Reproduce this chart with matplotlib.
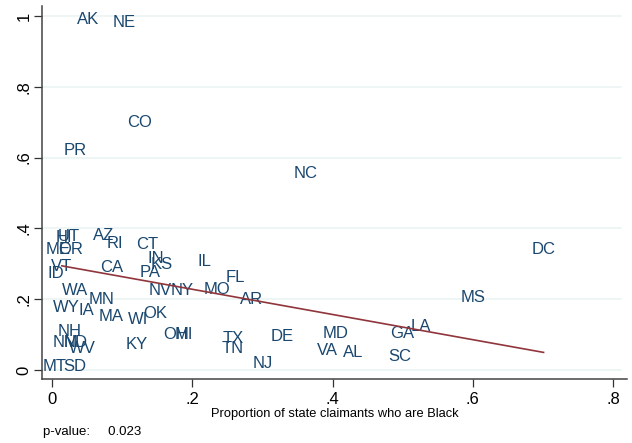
import numpy as np
import matplotlib.pyplot as plt

plt.rcParams['font.family'] = ['Liberation Sans', 'DejaVu Sans']

states = ['AK', 'NE', 'CO', 'PR', 'NC', 'DC', 'MS', 'LA', 'GA', 'SC',
          'MD', 'VA', 'AL', 'NJ', 'DE', 'TX', 'TN', 'AR', 'FL', 'MO',
          'IL', 'OH', 'MI', 'NY', 'NV', 'OK', 'WI', 'KY', 'MA', 'MN',
          'IA', 'WY', 'WA', 'CA', 'PA', 'IN', 'KS', 'CT', 'RI', 'AZ',
          'UT', 'HI', 'ME', 'OR', 'VT', 'ID', 'MT', 'SD', 'NH', 'NM',
          'ND', 'WV']

# share of claimants who are Black
black = [0.051, 0.103, 0.125, 0.033, 0.361, 0.701, 0.600, 0.526, 0.500, 0.496,
         0.404, 0.393, 0.430, 0.300, 0.328, 0.259, 0.257, 0.285, 0.262, 0.235,
         0.217, 0.176, 0.188, 0.185, 0.154, 0.147, 0.123, 0.121, 0.085, 0.071,
         0.049, 0.020, 0.033, 0.085, 0.140, 0.148, 0.156, 0.136, 0.090, 0.074,
         0.024, 0.017, 0.009, 0.027, 0.014, 0.006, 0.004, 0.033, 0.025, 0.020,
         0.034, 0.043]

# outcome rate by state
rate = [0.990, 0.982, 0.700, 0.621, 0.556, 0.341, 0.205, 0.124, 0.104, 0.037,
        0.103, 0.056, 0.048, 0.019, 0.094, 0.088, 0.061, 0.199, 0.260, 0.226,
        0.305, 0.099, 0.099, 0.223, 0.223, 0.158, 0.141, 0.073, 0.151, 0.200,
        0.169, 0.176, 0.224, 0.288, 0.276, 0.316, 0.298, 0.353, 0.358, 0.381,
        0.376, 0.373, 0.340, 0.340, 0.291, 0.271, 0.011, 0.011, 0.108, 0.077,
        0.077, 0.061]

# fitted line: intercept, slope and x range of the fit
fit_b0 = 0.299
fit_b1 = -0.356
fit_range = [0.014, 0.701]
p_value = 0.023

x = np.array(black)
y = np.array(rate)

fig = plt.figure(figsize=(6.32, 4.43), dpi=100)
ax = fig.add_axes([0.066, 0.144, 0.926, 0.8425])

ax.set_xlim(-0.0147, 0.8199)
ax.set_ylim(-0.0263, 1.0282)

yt = [0, 0.2, 0.4, 0.6, 0.8, 1]
for v in yt:
    ax.axhline(v, color='#eaf2f3', lw=1.1, zorder=0, xmax=0.99)

for s, xi, yi in zip(states, x, y):
    ax.text(xi, yi, s, color='#1a476f', fontsize=12, ha='center', va='center', zorder=2)

xs = np.array(fit_range)
ax.plot(xs, fit_b0 + fit_b1 * xs, color='#90353b', lw=1.2, zorder=3)

ax.set_xticks([0, 0.2, 0.4, 0.6, 0.8])
ax.set_xticklabels(['0', '.2', '.4', '.6', '.8'])
ax.set_yticks(yt)
ax.set_yticklabels(['0', '.2', '.4', '.6', '.8', '1'], rotation=90, va='center')
ax.tick_params(axis='both', labelsize=12, length=6, width=0.9, color='#333333')
ax.tick_params(axis='x', pad=3)
ax.tick_params(axis='y', pad=1.5)

for side in ['top', 'right']:
    ax.spines[side].set_visible(False)
for side in ['left', 'bottom']:
    ax.spines[side].set_color('#444444')
    ax.spines[side].set_linewidth(1.1)

ax.set_xlabel('Proportion of state claimants who are Black', fontsize=9.3, labelpad=1)
fig.text(0.068, 0.011, 'p-value:     %.3f' % p_value, fontsize=9.5, ha='left', va='bottom')

fig.savefig('out.png', dpi=100)
